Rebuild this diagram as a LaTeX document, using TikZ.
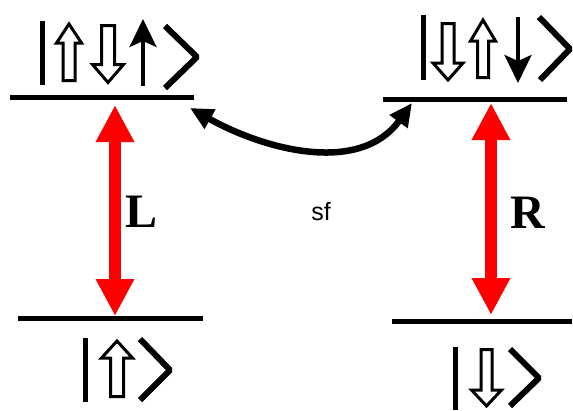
\documentclass[tikz,border=0pt]{standalone}
\usepackage{fontspec}
\setmainfont{Liberation Serif}
\newfontfamily\labelsans{Liberation Sans}
\usetikzlibrary{arrows.meta}
\newcommand\hollowarr[6]{% cx, tip y, tail y, head half width, shaft half width, signed head length
  \draw[hollow] (#1,#2) -- ({#1+#4},{#2+(#6)}) -- ({#1+#5},{#2+(#6)}) -- ({#1+#5},#3)
    -- ({#1-#5},#3) -- ({#1-#5},{#2+(#6)}) -- ({#1-#4},{#2+(#6)}) -- cycle;}
\begin{document}
\begin{tikzpicture}[x=1pt,y=-1pt,
  level/.style={line width=5pt},
  bar/.style={line width=5pt},
  bracket/.style={line width=6pt, line join=bevel},
  hollow/.style={line width=3pt, line join=miter, fill=white},
  thinarr/.style={line width=3.5pt, -{Stealth[length=28pt,width=27pt,inset=6pt]}},
  redarr/.style={red, line width=12pt, {Triangle[length=37pt,width=36pt]}-{Triangle[length=37pt,width=36pt]}},
  sfarr/.style={line width=6.5pt, {Triangle[length=23pt,width=21pt]}-{Triangle[length=23pt,width=21pt]}},
  lbl/.style={font=\fontsize{48}{48}\selectfont\bfseries, inner sep=0pt, anchor=base},
  sflbl/.style={font=\labelsans\fontsize{25}{25}\selectfont, inner sep=0pt, anchor=base}
]
\useasboundingbox (0,0) rectangle (573,410);

% energy levels
\draw[level] (10,97) -- (194,97);
\draw[level] (383,99) -- (567,99);
\draw[level] (18,318) -- (203,318);
\draw[level] (392,321) -- (572,321);

% top-left ket
\draw[bar] (42,21) -- (42,85);
\hollowarr{69}{24}{80.5}{12.5}{6}{19}
\hollowarr{108}{82.5}{25.5}{15.5}{6.5}{-18}
\draw[thinarr] (143,86) -- (143,19);
\draw[bracket] (165,26) -- (197,57) -- (165,88);

% top-right ket
\draw[bar] (423,15) -- (423,80);
\hollowarr{448}{80}{23.5}{15}{6}{-17}
\hollowarr{483}{20}{77.5}{12.5}{5.5}{21}
\draw[thinarr] (518,17) -- (518,83);
\draw[bracket] (539,17) -- (570,49) -- (540,80);

% bottom-left ket
\draw[bar] (85.5,338) -- (85.5,402);
\hollowarr{117}{341}{396.5}{15.5}{6.5}{17}
\draw[bracket] (140,339) -- (170,370) -- (140,400);

% bottom-right ket
\draw[bar] (455.5,347) -- (455.5,410);
\hollowarr{486.5}{406}{349.5}{15}{5.5}{-16}
\draw[bracket] (510,349) -- (539,378) -- (510,406);

% red transitions
\coordinate (Ltop) at (115,105);
\coordinate (Lbot) at (115,316);
\coordinate (Rtop) at (491,103);
\coordinate (Rbot) at (491,315);
\draw[redarr] (Ltop) -- (Lbot);
\draw[redarr] (Rtop) -- (Rbot);
\node[lbl] (Llbl) at (142,227) {L};
\node[lbl] (Rlbl) at (528,228) {R};

% spin flip arrow
\coordinate (sfL) at (190,108);
\coordinate (sfR) at (412,103);
\draw[sfarr] (sfL) .. controls (265,150) and (360,175) .. (sfR);
\node[sflbl] (sf) at (321,220) {sf};
\end{tikzpicture}
\end{document}
